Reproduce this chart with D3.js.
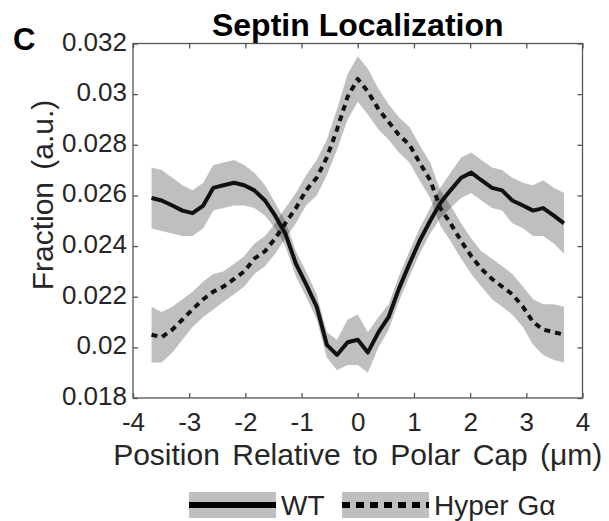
<!DOCTYPE html>
<html>
<head>
<meta charset="utf-8">
<script src="https://cdn.jsdelivr.net/npm/d3@7"></script>
<style>
  body { margin: 0; background: #fff; }
  svg { display: block; font-family: "Liberation Sans", Arial, sans-serif; }
</style>
</head>
<body>
<svg id="chart" width="609" height="521"></svg>
<script>
// positions along the cortex (um)
const positions = [-3.67, -3.49, -3.30, -3.12, -2.94, -2.75, -2.57, -2.39, -2.20, -2.02,
  -1.84, -1.65, -1.47, -1.29, -1.10, -0.92, -0.73, -0.55, -0.37, -0.18, 0,
  0.18, 0.37, 0.55, 0.73, 0.92, 1.10, 1.29, 1.47, 1.65, 1.84,
  2.02, 2.20, 2.39, 2.57, 2.75, 2.94, 3.12, 3.30, 3.49, 3.67];

const wtMean = [0.0259, 0.0258, 0.0256, 0.0254, 0.0253, 0.0256, 0.0263, 0.0264, 0.0265, 0.0264,
  0.0262, 0.0258, 0.0252, 0.0245, 0.0233, 0.0225, 0.0216, 0.0201, 0.0197, 0.0202, 0.0203,
  0.0198, 0.0206, 0.0212, 0.0223, 0.0233, 0.0242, 0.0250, 0.0257, 0.0262, 0.0267,
  0.0269, 0.0266, 0.0263, 0.0262, 0.0258, 0.0256, 0.0254, 0.0255, 0.0252, 0.0249];
const wtErr = [0.0012, 0.0012, 0.0011, 0.0010, 0.0009, 0.0009, 0.0009, 0.0009, 0.0009, 0.0008,
  0.0007, 0.0006, 0.0005, 0.0005, 0.0005, 0.0005, 0.0005, 0.0005, 0.0006, 0.0009, 0.0010,
  0.0008, 0.0006, 0.0005, 0.0005, 0.0005, 0.0005, 0.0005, 0.0006, 0.0007, 0.0008,
  0.0008, 0.0008, 0.0008, 0.0008, 0.0009, 0.0009, 0.0010, 0.0011, 0.0011, 0.0012];

const hyperMean = [0.0205, 0.0204, 0.0207, 0.0211, 0.0215, 0.0219, 0.0222, 0.0224, 0.0227, 0.0230,
  0.0235, 0.0238, 0.0243, 0.0249, 0.0255, 0.0262, 0.0267, 0.0275, 0.0286, 0.0299, 0.0306,
  0.0301, 0.0294, 0.0289, 0.0284, 0.0280, 0.0273, 0.0266, 0.0255, 0.0249, 0.0242,
  0.0236, 0.0231, 0.0227, 0.0224, 0.0221, 0.0216, 0.0210, 0.0207, 0.0206, 0.0205];
const hyperErr = [0.0011, 0.0010, 0.0009, 0.0008, 0.0007, 0.0007, 0.0007, 0.0006, 0.0006, 0.0006,
  0.0006, 0.0006, 0.0006, 0.0006, 0.0006, 0.0006, 0.0007, 0.0007, 0.0008, 0.0009, 0.0009,
  0.0009, 0.0008, 0.0007, 0.0007, 0.0007, 0.0007, 0.0007, 0.0007, 0.0007, 0.0007,
  0.0007, 0.0007, 0.0008, 0.0008, 0.0008, 0.0008, 0.0009, 0.0010, 0.0011, 0.0011];

const xTicks = [-4, -3, -2, -1, 0, 1, 2, 3, 4];
const yTicks = [0.018, 0.020, 0.022, 0.024, 0.026, 0.028, 0.030, 0.032];
const yTickLabels = ['0.018', '0.02', '0.022', '0.024', '0.026', '0.028', '0.03', '0.032'];
const seriesNames = ['WT', 'Hyper G\u03b1'];

const svg = d3.select('#chart');
const plotLeft = 133, plotRight = 582.5, plotTop = 43.5, plotBottom = 398;

const x = d3.scaleLinear().domain([-4, 4]).range([plotLeft, plotRight]);
const y = d3.scaleLinear().domain([0.018, 0.032]).range([plotBottom, plotTop]);

const axisColor = '#555';
const labelColor = '#262626';

// shaded bands first
const series = [
  {name: seriesNames[0], mean: wtMean, err: wtErr, dash: null},
  {name: seriesNames[1], mean: hyperMean, err: hyperErr, dash: '6,5'}
];

const area = (s) => d3.area()
  .x((d, i) => x(positions[i]))
  .y0((d, i) => y(s.mean[i] - s.err[i]))
  .y1((d, i) => y(s.mean[i] + s.err[i]));

series.forEach(s => {
  svg.append('path')
    .attr('d', area(s)(s.mean))
    .attr('fill', '#000')
    .attr('fill-opacity', 0.25);
});

const line = d3.line().x((d, i) => x(positions[i])).y(d => y(d));
series.forEach(s => {
  svg.append('path')
    .attr('d', line(s.mean))
    .attr('fill', 'none')
    .attr('stroke', '#111')
    .attr('stroke-width', 4)
    .attr('stroke-linejoin', 'round')
    .attr('stroke-dasharray', s.dash);
});

// axes, ticks point inward
const xAxis = svg.append('g')
  .attr('transform', `translate(0,${plotBottom})`)
  .call(d3.axisBottom(x).tickValues(xTicks).tickSizeInner(-5).tickSizeOuter(0)
    .tickPadding(15).tickFormat(d => String(d)));
const yAxis = svg.append('g')
  .attr('transform', `translate(${plotLeft},0)`)
  .call(d3.axisLeft(y).tickValues(yTicks).tickSizeInner(-5).tickSizeOuter(0)
    .tickPadding(6).tickFormat((d, i) => yTickLabels[i]));
svg.append('g')
  .attr('transform', `translate(0,${plotTop})`)
  .call(d3.axisTop(x).tickValues(xTicks).tickSizeInner(-5).tickSizeOuter(0).tickFormat(''));
svg.append('g')
  .attr('transform', `translate(${plotRight},0)`)
  .call(d3.axisRight(y).tickValues(yTicks).tickSizeInner(-5).tickSizeOuter(0).tickFormat(''));

svg.selectAll('.domain').remove();
svg.selectAll('.tick line').attr('stroke', axisColor).attr('stroke-width', 1.3);
svg.selectAll('.tick text').attr('fill', labelColor).attr('font-size', 26)
  .attr('font-family', '"Liberation Sans", Arial, sans-serif');
yAxis.selectAll('.tick text').attr('dy', '0.25em');

svg.append('rect')
  .attr('x', plotLeft).attr('y', plotTop)
  .attr('width', plotRight - plotLeft).attr('height', plotBottom - plotTop)
  .attr('fill', 'none').attr('stroke', axisColor).attr('stroke-width', 1.3);

// titles
svg.append('text')
  .attr('x', 13).attr('y', 50)
  .attr('font-size', 31).attr('font-weight', 'bold').attr('fill', '#000')
  .text('C');
svg.append('text')
  .attr('x', (plotLeft + plotRight) / 2).attr('y', 36)
  .attr('text-anchor', 'middle')
  .attr('font-size', 32).attr('font-weight', 'bold').attr('fill', '#000')
  .text('Septin Localization');
svg.append('text')
  .attr('x', (plotLeft + plotRight) / 2).attr('y', 465)
  .attr('text-anchor', 'middle')
  .attr('font-size', 30).attr('fill', labelColor)
  .attr('word-spacing', 4)
  .text('Position Relative to Polar Cap (\u03bcm)');
svg.append('text')
  .attr('transform', 'translate(53,195) rotate(-90)')
  .attr('text-anchor', 'middle')
  .attr('font-size', 30).attr('fill', labelColor)
  .attr('word-spacing', 4)
  .text('Fraction (a.u.)');

// legend
const legendX = [189, 342];
const legend = svg.append('g');
series.forEach((s, i) => {
  const g = legend.append('g').attr('transform', `translate(${legendX[i]},492)`);
  g.append('rect').attr('width', 87).attr('height', 26).attr('fill', '#bfbfbf');
  g.append('line')
    .attr('x1', 0).attr('x2', 87).attr('y1', 13).attr('y2', 13)
    .attr('stroke', '#000').attr('stroke-width', 6)
    .attr('stroke-dasharray', s.dash ? '8,6' : null);
  g.append('text')
    .attr('x', 92).attr('y', 23)
    .attr('font-size', 28).attr('fill', labelColor)
    .attr('word-spacing', 1)
    .text(s.name);
});
</script>
</body>
</html>
